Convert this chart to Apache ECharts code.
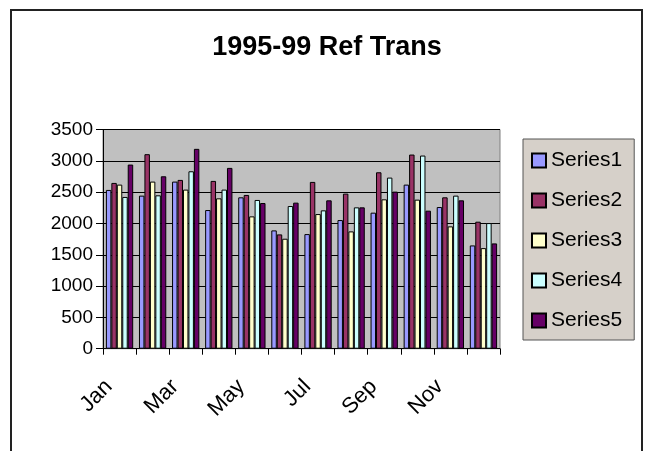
<!DOCTYPE html>
<html>
<head>
<meta charset="utf-8">
<script src="https://cdn.jsdelivr.net/npm/echarts@6/dist/echarts.min.js"></script>
<style>
html,body{margin:0;padding:0;background:#fff;}
#c{width:647px;height:451px;}
</style>
</head>
<body>
<div id="c"></div>
<script>
var categories = ['Jan','Feb','Mar','Apr','May','Jun','Jul','Aug','Sep','Oct','Nov','Dec'];
var seriesNames = ['Series1','Series2','Series3','Series4','Series5'];
var series1 = [2535, 2444, 2668, 2214, 2417, 1889, 1830, 2054, 2172, 2620, 2262, 1649];
var series2 = [2647, 3106, 2695, 2679, 2455, 1825, 2663, 2476, 2817, 3100, 2417, 2028];
var series3 = [2620, 2668, 2540, 2401, 2113, 1756, 2150, 1873, 2385, 2380, 1953, 1606];
var series4 = [2423, 2449, 2833, 2540, 2375, 2278, 2209, 2257, 2732, 3084, 2444, 2006];
var series5 = [2940, 2753, 3191, 2887, 2326, 2332, 2369, 2257, 2508, 2204, 2369, 1681];
var yTicks = [0, 500, 1000, 1500, 2000, 2500, 3000, 3500];
var colors = ['#9999FF', '#993366', '#FFFFCC', '#CCFFFF', '#660066'];

var allData = [series1, series2, series3, series4, series5];
var font = "'Liberation Sans', Arial, sans-serif";

var chart = echarts.init(document.getElementById('c'), null, {renderer: 'canvas'});
chart.setOption({
  animation: false,
  backgroundColor: '#ffffff',
  title: {
    text: '1995-99 Ref Trans',
    left: 322, textAlign: 'center',
    top: 29,
    textStyle: {fontFamily: font, fontSize: 27, fontWeight: 'bold', color: '#000'}
  },
  graphic: [{
    type: 'rect', z: -1, silent: true,
    shape: {x: 11, y: 10, width: 631, height: 470},
    style: {fill: 'none', stroke: '#222', lineWidth: 2}
  }],
  legend: {
    orient: 'vertical',
    left: 523, top: 139,
    padding: [11, 12, 9, 8],
    itemGap: 19,
    itemWidth: 14, itemHeight: 14,
    icon: 'rect',
    backgroundColor: '#D6D0C9',
    borderColor: '#555', borderWidth: 1,
    textStyle: {fontFamily: font, fontSize: 21, color: '#000', lineHeight: 21},
    data: seriesNames
  },
  grid: {left: 103, right: 147, top: 129.5, bottom: 102.3, show: true, backgroundColor: '#C0C0C0', borderColor: '#808080', borderWidth: 1},
  xAxis: {
    type: 'category',
    data: categories,
    axisLine: {show: true, lineStyle: {color: '#000', width: 1}},
    axisTick: {show: true, interval: 0, length: 6, lineStyle: {color: '#000'}},
    axisLabel: {interval: 1, rotate: 45, margin: 24, padding: [0, 15, 0, 0], fontFamily: font, fontSize: 22, color: '#000'},
    splitLine: {show: false}
  },
  yAxis: {
    type: 'value',
    min: yTicks[0], max: yTicks[yTicks.length - 1], interval: 500,
    axisLine: {show: true, lineStyle: {color: '#000', width: 1}},
    axisTick: {show: true, length: 7, lineStyle: {color: '#000'}},
    axisLabel: {margin: 10, fontFamily: font, fontSize: 19, color: '#000', formatter: function (v) { return String(v); }},
    splitLine: {show: true, lineStyle: {color: '#000', width: 1}}
  },
  series: seriesNames.map(function (n, i) {
    return {
      name: n, type: 'bar', data: allData[i],
      barGap: '0%', barCategoryGap: '17.5%',
      itemStyle: {color: colors[i], borderColor: '#000', borderWidth: 1}
    };
  })
});
</script>
</body>
</html>
